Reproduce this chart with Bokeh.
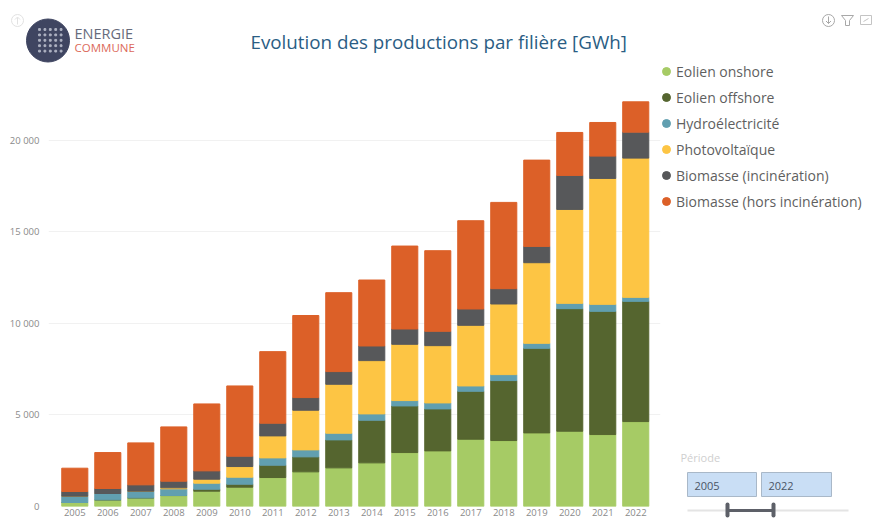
from bokeh.plotting import figure
from bokeh.embed import file_html
from bokeh.resources import INLINE
from bokeh.core.properties import value
from bokeh.models import Range1d, FixedTicker, Legend, LegendItem, ColumnDataSource

years = list(range(2005, 2023))
onshore = [218,364,473,600,837,1056,1583,1893,2111,2384,2948,3039,3676,3604,4022,4113,3931,4641]
offshore = [0,0,0,0,109,163,674,819,1529,2330,2548,2294,2621,3276,4623,6698,6734,6570]
hydro = [346,346,364,365,328,383,400,382,364,346,292,327,291,327,273,291,382,219]
pv = [0,0,0,55,218,582,1201,2166,2675,2912,3075,3130,3312,3859,4404,5132,6880,7607]
inc = [256,273,346,363,455,564,692,691,692,800,837,783,893,837,892,1857,1219,1420]
hors = [1273,1965,2293,2967,3658,3840,3913,4486,4313,3604,4532,4405,4823,4714,4714,2348,1839,1656]

series = ["Eolien onshore", "Eolien offshore", "Hydroélectricité", "Photovoltaïque",
          "Biomasse (incinération)", "Biomasse (hors incinération)"]
colors = ["#A6CB65", "#55652F", "#619FB0", "#FDC544", "#57585A", "#DC6028"]
y_ticks = [0, 5000, 10000, 15000, 20000]
y_labels = ["0", "5 000", "10 000", "15 000", "20 000"]
chart_title = "Evolution des productions par filière [GWh]"
period = ["2005", "2022"]

W, H = 873, 518
ABS = {"position": "absolute", "left": "0px", "top": "0px"}

p = figure(width=W, height=H, output_backend="svg", toolbar_location=None,
           x_range=Range1d(2004.203, 2022.75), y_range=Range1d(0, 22732),
           min_border_left=48, min_border_right=213, min_border_top=90, min_border_bottom=12,
           styles=ABS)
p.outline_line_color = None
p.background_fill_color = "white"
p.xgrid.visible = False
p.ygrid.grid_line_color = "#F1F1F1"
p.ygrid.ticker = FixedTicker(ticks=y_ticks)

p.yaxis.ticker = FixedTicker(ticks=y_ticks)
p.yaxis.major_label_overrides = dict(zip(y_ticks, y_labels))
p.xaxis.ticker = FixedTicker(ticks=years)
for ax in (p.xaxis, p.yaxis):
    ax.axis_line_color = None
    ax.major_tick_line_color = None
    ax.minor_tick_line_color = None
    ax.major_tick_out = 0
    ax.major_tick_in = 0
    ax.minor_tick_out = 0
    ax.major_label_text_color = "#8A8A8A"
    ax.major_label_text_font = "Open Sans"
p.xaxis.major_label_text_font_size = "9.5px"
p.yaxis.major_label_text_font_size = "9.5px"
p.xaxis.major_label_standoff = 2
p.yaxis.major_label_standoff = 9

src = ColumnDataSource(dict(year=years, a=onshore, b=offshore, c=hydro, d=pv, e=inc, f=hors))
p.vbar_stack(["a", "b", "c", "d", "e", "f"], x="year", width=0.79, color=colors, source=src)

# transparent page-sized layer for the logo, title, legend, icons and period slicer
q = figure(width=W, height=H, output_backend="svg", toolbar_location=None,
           x_range=Range1d(0, W), y_range=Range1d(H, 0),
           min_border=0, styles=ABS)
q.axis.visible = False
q.grid.visible = False
q.outline_line_color = None
q.background_fill_alpha = 0
q.border_fill_alpha = 0

items = []
for name, col in zip(series, colors):
    # the point itself lies off the page: only its legend key is seen
    r = q.scatter([-100], [-100], size=10, color=col, marker="circle")
    items.append(LegendItem(label=name, renderers=[r]))
leg = Legend(items=items, location=(656, 305), orientation="vertical", border_line_color=None,
             background_fill_alpha=0, glyph_width=20, glyph_height=24, label_standoff=0,
             spacing=2, padding=0, margin=0, label_text_font="Open Sans",
             label_text_font_size="14px", label_text_color="#5F5F5F", label_height=19)
q.add_layout(leg, "center")


def txt(x, y, s, size, color, font="Open Sans"):
    q.text([x], [y], text=[s], text_font=value(font), text_font_size=size,
           text_color=color, text_baseline="middle")


def box(l, t, r, b, fill, line=None, lw=1, radius=0):
    q.quad(left=[l], right=[r], top=[t], bottom=[b], fill_color=fill,
           fill_alpha=1 if fill else 0, line_color=line, line_width=lw, border_radius=radius)


def ring(x, y, size, color):
    q.scatter([x], [y], size=size, marker="circle", fill_alpha=0, line_color=color)


# title
txt(250, 41.5, chart_title, "18.8px", "#2A5D84")

# logo
q.scatter([47.5], [40], size=43, marker="circle", color="#3F4561")
dx = [39 + i * 5.4 for i in range(5) for j in range(5)]
dy = [29 + j * 5.4 for i in range(5) for j in range(5)]
q.scatter(dx, dy, size=1.8, marker="square", color="#AEB2C2")
txt(74, 33, "ENERGIE", "14.5px", "#666B7B")
txt(74, 46.5, "COMMUNE", "11.5px", "#DC6A5A")

# report icons
ring(17, 20, 12, "#E2E2E2")
q.line([17, 17], [17, 24], line_color="#E2E2E2")
q.line([14.5, 17, 19.5], [19, 16.5, 19], line_color="#E2E2E2")
ring(828, 20, 12, "#A8A8A8")
q.line([828, 828], [16, 23], line_color="#A8A8A8")
q.line([825.5, 828, 830.5], [20.5, 23, 20.5], line_color="#A8A8A8")
q.patch([841, 853, 849, 849, 845, 845], [15, 15, 20, 25, 25, 20], fill_alpha=0, line_color="#A8A8A8")
box(860, 15, 871, 24, None, line="#C4C4C4")
q.line([863, 868], [21, 18], line_color="#C4C4C4")

# period slicer
txt(680, 457, "Période", "11px", "#CFCFCF")
box(687, 472, 756, 496, "#C9DEF5", line="#A9B8C8")
box(761, 472, 831, 496, "#C9DEF5", line="#A9B8C8")
txt(694, 485, period[0], "11px", "#4A5566")
txt(768, 485, period[1], "11px", "#4A5566")
box(687, 509, 848, 511, "#E4E4E4")
box(727, 508.5, 773, 511.5, "#5D6068")
box(725, 502, 729, 517, "#5D6068", radius=2)
box(771, 502, 775, 517, "#5D6068", radius=2)

open("out.html", "w").write(file_html((p, q), INLINE))
